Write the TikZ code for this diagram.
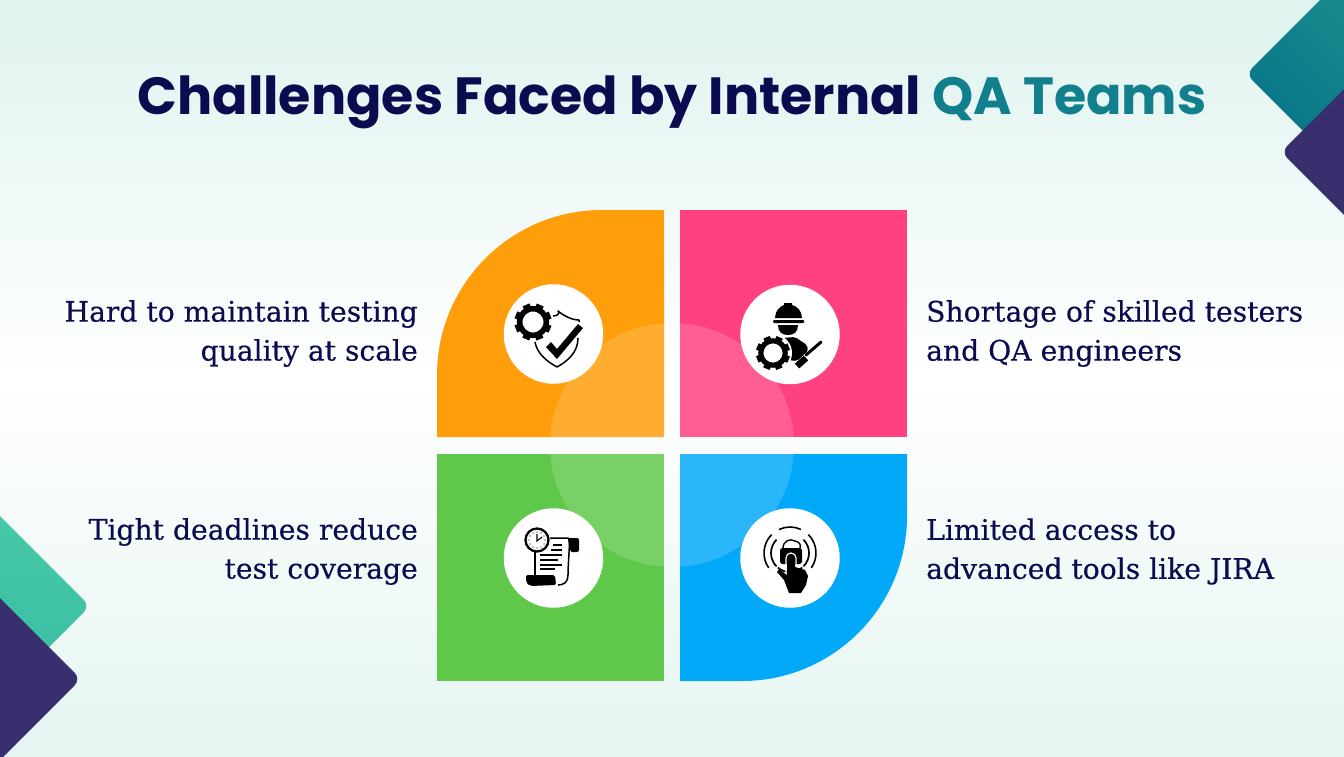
\documentclass[tikz,border=0pt]{standalone}
\usepackage{fontspec}
\setmainfont{DejaVu Serif}[FakeBold=0.35]
\newfontfamily\titlefont{Poppins}[BoldFont={Poppins Bold}]
\definecolor{navy}{HTML}{0B0B50}
\definecolor{tealt}{HTML}{127F8C}
\definecolor{orangeq}{HTML}{FF9D0A}
\definecolor{pinkq}{HTML}{FF4081}
\definecolor{greenq}{HTML}{5FC84A}
\definecolor{blueq}{HTML}{03A9F9}
\definecolor{purp}{HTML}{38306E}
\definecolor{bgedge}{HTML}{DFF3EF}
\definecolor{bgedgeb}{HTML}{E5F5F1}
\definecolor{tealhi}{HTML}{1F9690}
\definecolor{teallo}{HTML}{036F86}
\definecolor{minthi}{HTML}{4CCDAA}
\definecolor{mintlo}{HTML}{33B8A0}
\tikzset{
  x=1pt,y=-1pt,
  labeltext/.style={inner sep=0pt,text=navy,font=\fontsize{28.2}{39}\selectfont},
  disc/.style={circle,fill=white,minimum size=99.5pt,inner sep=0pt},
}
\newcommand{\gearicon}[3]{%
  \foreach \a in {0,45,...,315}{\fill[black,rotate around={\a+22:(#1,#2)}] (#1-#3*0.2,#2-#3) rectangle (#1+#3*0.2,#2-#3*0.6);}
  \draw[black,line width=#3*0.3pt] (#1,#2) circle[radius=#3*0.72];
}
\begin{document}
\begin{tikzpicture}
\useasboundingbox (0,0) rectangle (1344,756);
\shade[top color=bgedge,bottom color=white] (0,0) rectangle (1344,378);
\shade[top color=white,bottom color=bgedgeb] (0,378) rectangle (1344,756);
% corner shapes
\begin{scope}
\clip (0,0) rectangle (1344,756);
\shade[rounded corners=9pt,top color=tealhi,bottom color=teallo,shading angle=-45]
  (1346,-26) -- (1246,74) -- (1396,224) -- (1480,100) -- cycle;
\fill[purp,rounded corners=9pt] (1400,33) -- (1281,152) -- (1400,271) -- (1480,150) -- cycle;
\shade[rounded corners=9pt,top color=minthi,bottom color=mintlo]
  (-60,456) -- (90,606) -- (-60,756) -- (-160,600) -- cycle;
\fill[purp,rounded corners=9pt] (-60,538) -- (81,679) -- (-60,820) -- (-160,680) -- cycle;
\end{scope}
% title
\node[inner sep=0pt,font=\titlefont\bfseries\fontsize{52.3}{60}\selectfont,text=navy] (title) at (672,102)
  {Challenges Faced by Internal \textcolor{tealt}{QA Teams}};
% quadrants
\fill[orangeq] (437,437) -- (437,375) .. controls (437,284) and (511,210) .. (602,210) -- (664,210) -- (664,437) -- cycle;
\fill[pinkq] (680,210) rectangle (907,437);
\fill[greenq] (437,454) rectangle (664,681);
\fill[blueq] (680,454) -- (907,454) -- (907,516) .. controls (907,607) and (833,681) .. (742,681) -- (680,681) -- cycle;
\begin{scope}
\clip (437,210) rectangle (664,437) (680,210) rectangle (907,437) (437,454) rectangle (664,681) (680,454) rectangle (907,681);
\fill[white,opacity=0.16] (672,445) circle[radius=122];
\end{scope}
% discs
\node[disc] (d1) at (553.5,334) {};
\node[disc] (d2) at (790,334.5) {};
\node[disc] (d3) at (553.5,558) {};
\node[disc] (d4) at (790,558) {};
% icon 1: gear and shield
\gearicon{533}{322}{18.5}
\draw[black,line width=1.5pt,line join=round] (553,316) .. controls (558,316) and (560,313) .. (558,311) .. controls (564,316) and (572,320) .. (579,320) -- (579,322);
\draw[black,line width=1.5pt,line join=round] (578,338) .. controls (578,352) and (568,361) .. (557,367) .. controls (546,361) and (537,353) .. (535,342);
\fill[black] (546,347) -- (551,342) -- (557,349) -- (578,324) -- (583,328) -- (557,359) -- cycle;
% icon 2: worker
\fill[black] (775,318) .. controls (775,311) and (780,306) .. (784,305) -- (784,303) -- (792,303) -- (792,305) .. controls (797,306) and (802,311) .. (802,318) -- cycle;
\fill[black,rounded corners=1pt] (773,320) rectangle (804,323);
\fill[black] (778,325) -- (798,325) .. controls (798,332) and (794,335) .. (788,335) .. controls (782,335) and (778,332) .. (778,325) -- cycle;
\fill[black,rounded corners=2pt] (782,338) -- (795,337) -- (807,345) -- (808,351) -- (797,361) -- (788,360) -- cycle;
\fill[white] (773,353) circle[radius=19];
\gearicon{773}{353}{17}
\draw[white,line width=4pt] (796,365) -- (824,340);
\draw[black,line width=3pt,line cap=round] (806,355) -- (821,342);
\draw[black,line width=6.5pt] (797,366) -- (806,358);
% icon 3: clock and scroll
\draw[black,line width=1.5pt] (550,538) -- (568,538) .. controls (571,538) and (568,560) .. (568,575) .. controls (568,582) and (564,585) .. (558,585);
\draw[black,line width=1.5pt] (535,552) -- (535,575);
\fill[black,rounded corners=2pt] (568,538) -- (579,538) -- (579,552) -- (570,552) -- cycle;
\fill[black,rounded corners=2pt] (526,575) -- (555,575) -- (556,585) -- (530,586) -- (526,582) -- cycle;
\foreach \yy/\xa/\xb in {545/553/562,550/551/562,555/540/562,560/540/558,565/540/562,569/540/555}
  \draw[black,line width=1.2pt] (\xa,\yy) -- (\xb,\yy);
\fill[white] (537,540) circle[radius=12];
\draw[black,line width=2.3pt] (537,540) circle[radius=11.5];
\draw[black,line width=1.1pt] (537,534) -- (537,541) -- (542,537);
\foreach \a in {0,30,...,330}\fill[black] (537,540) ++(\a:8) circle[radius=0.6];
% icon 4: touch and lock
\draw[black,line width=1.6pt] (790,553) ++(-115:26) arc[start angle=-115,end angle=-65,radius=26];
\draw[black,line width=1.6pt] (790,553) ++(-215:26) arc[start angle=-215,end angle=-135,radius=26];
\draw[black,line width=1.6pt] (790,553) ++(35:26) arc[start angle=35,end angle=-45,radius=26];
\draw[black,line width=1.7pt] (790,553) ++(130:19) arc[start angle=130,end angle=50,radius=19];
\draw[black,line width=1.7pt] (790,553) ++(225:19) arc[start angle=225,end angle=135,radius=19];
\draw[black,line width=1.7pt] (790,553) ++(45:19) arc[start angle=45,end angle=-45,radius=19];
\draw[black,line width=1.4pt] (783,548) .. controls (783,541) and (790,538) .. (795,541) .. controls (800,542) and (801,545) .. (800,548);
\fill[black,rounded corners=2.5pt] (780,548) rectangle (802,564);
\draw[white,line width=1.2pt,line join=round] (786,575) -- (786,558) arc[start angle=180,end angle=360,radius=5] -- (796,575);
\fill[black] (787,575) -- (787,558) arc[start angle=180,end angle=360,radius=4] -- (795,567) -- (805,570) -- (808,576) -- (806,585) -- (801,593) -- (789,593) -- (784,580) -- (777,572) -- (779,569) -- cycle;
% labels
\node[labeltext,align=right,anchor=east] (t1) at (418,333.5) {Hard to maintain testing\\quality at scale};
\node[labeltext,align=left,anchor=west] (t2) at (926,333.5) {Shortage of skilled testers\\and QA engineers};
\node[labeltext,align=right,anchor=east] (t3) at (418,551.5) {Tight deadlines reduce\\test coverage};
\node[labeltext,align=left,anchor=west] (t4) at (926,551.5) {Limited access to\\advanced tools like JIRA};
\end{tikzpicture}
\end{document}
